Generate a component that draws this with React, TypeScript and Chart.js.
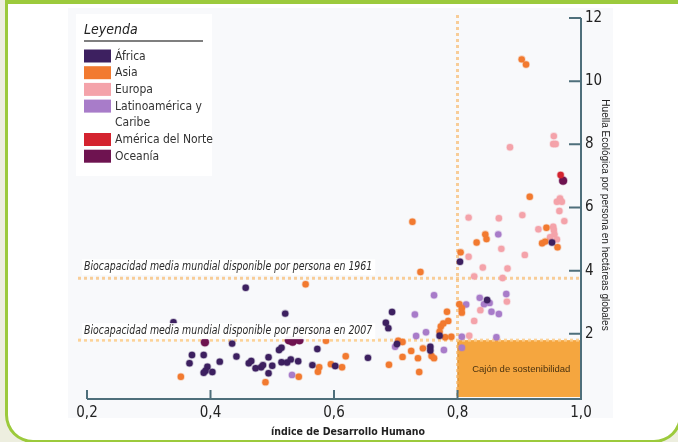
import React, { useEffect, useRef } from "react";
import { Chart, registerables } from "chart.js";

Chart.register(...registerables);

// ---- data ----
const xTickValues = [0.2, 0.4, 0.6, 0.8, 1.0];
const yTickValues = [2, 4, 6, 8, 10, 12];
const regionNames = ["África", "Asia", "Europa", "Latinoamérica y Caribe", "América del Norte", "Oceanía"];
const legendLines = [["África"], ["Asia"], ["Europa"], ["Latinoamérica y", "Caribe"], ["América del Norte"], ["Oceanía"]];
const regionColors = ["#3d2060", "#f27a30", "#f4a3aa", "#a87cc9", "#d4232f", "#6e1350"];

const biocap1961 = 3.76;
const biocap2007 = 1.8;
const hdiThreshold = 0.8;

const africa: [number, number][] = [
  [0.457, 3.46], [0.34, 2.37], [0.521, 2.64], [0.694, 2.69], [0.684, 2.35], [0.688, 2.18],
  [0.541, 2.15], [0.435, 1.69], [0.573, 1.52], [0.37, 1.33], [0.389, 1.33], [0.366, 1.07],
  [0.395, 0.96], [0.392, 0.83], [0.403, 0.79], [0.389, 0.77], [0.415, 1.12], [0.442, 1.28],
  [0.462, 1.07], [0.466, 1.14], [0.473, 0.91], [0.482, 0.94], [0.485, 1.01], [0.494, 1.26],
  [0.5, 0.99], [0.494, 0.75], [0.511, 1.49], [0.515, 1.56], [0.515, 1.1], [0.524, 1.09],
  [0.53, 1.19], [0.542, 1.13], [0.565, 1.01], [0.602, 0.98], [0.655, 1.24], [0.702, 1.68],
  [0.771, 1.94], [0.756, 1.59], [0.756, 1.47], [0.848, 3.07], [0.804, 4.28], [0.953, 4.89],
];
const asia: [number, number][] = [
  [0.554, 3.57], [0.352, 0.64], [0.489, 0.47], [0.543, 0.64], [0.574, 0.8], [0.576, 0.94],
  [0.595, 1.04], [0.613, 0.94], [0.619, 1.29], [0.587, 1.78], [0.689, 1.02], [0.711, 1.27],
  [0.704, 1.78], [0.711, 1.74], [0.725, 1.46], [0.744, 1.54], [0.736, 1.23], [0.758, 1.3],
  [0.762, 1.23], [0.738, 0.79], [0.773, 2.23], [0.771, 2.07], [0.777, 2.33], [0.78, 1.89],
  [0.79, 1.91], [0.783, 2.7], [0.785, 2.41], [0.803, 2.94], [0.807, 2.81], [0.807, 2.67],
  [0.727, 5.55], [0.74, 3.96], [0.805, 4.58], [0.831, 4.89], [0.845, 5.15], [0.847, 5.0],
  [0.917, 6.34], [0.944, 5.36], [0.937, 4.87], [0.942, 4.92], [0.962, 4.74], [0.904, 10.69],
  [0.911, 10.53],
];
const europa: [number, number][] = [
  [0.819, 1.94], [0.827, 2.41], [0.837, 2.75], [0.88, 3.02], [0.827, 3.82], [0.873, 3.77],
  [0.841, 4.1], [0.881, 4.07], [0.818, 4.44], [0.909, 4.5], [0.871, 4.69], [0.818, 5.68],
  [0.867, 5.66], [0.905, 5.76], [0.931, 5.31], [0.955, 5.39], [0.956, 5.29], [0.957, 5.15],
  [0.95, 5.06], [0.961, 4.99], [0.973, 5.57], [0.965, 5.89], [0.961, 6.18], [0.966, 6.29],
  [0.969, 6.18], [0.885, 7.91], [0.956, 8.26], [0.955, 8.01], [0.959, 8.01],
];
const latam: [number, number][] = [
  [0.532, 0.7], [0.699, 1.59], [0.731, 2.61], [0.733, 1.93], [0.749, 2.05], [0.762, 3.22],
  [0.778, 1.49], [0.807, 1.56], [0.807, 1.91], [0.814, 2.93], [0.836, 3.14], [0.843, 2.94],
  [0.855, 2.7], [0.867, 2.63], [0.879, 3.26], [0.863, 1.89], [0.866, 5.15], [0.852, 2.98],
];
const norteamerica: [number, number][] = [[0.967, 7.03]];
const oceania: [number, number][] = [
  [0.391, 1.73], [0.527, 1.8], [0.533, 1.75], [0.544, 1.8], [0.971, 6.85],
];
const regionPoints = [africa, asia, europa, latam, norteamerica, oceania];
const regionRadius = [3.2, 3.2, 3.2, 3.2, 3.2, 4.0];

const NARROW = '"Liberation Sans Narrow", "DejaVu Sans Condensed", "Liberation Sans", sans-serif';
const SANS = '"Liberation Sans", Arial, sans-serif';
const AXIS_COLOR = "#4e6f7b";

function hexA(hex: string, a: number) {
  const n = parseInt(hex.slice(1), 16);
  return `rgba(${(n >> 16) & 255},${(n >> 8) & 255},${n & 255},${a})`;
}

const decor = {
  id: "decor",
  beforeDraw(chart: any) {
    const { ctx } = chart;
    ctx.save();
    ctx.fillStyle = "#f8f9fb";
    ctx.fillRect(68, 8, 545, 410);
    ctx.fillStyle = "#ffffff";
    ctx.fillRect(76, 14, 136, 162);
    ctx.restore();
  },
  beforeDatasetsDraw(chart: any) {
    const { ctx, scales } = chart;
    const x = scales.x, y = scales.y;
    const bx0 = x.getPixelForValue(hdiThreshold);
    const bx1 = x.getPixelForValue(1.0);
    const by0 = y.getPixelForValue(0);
    const by1 = y.getPixelForValue(biocap2007);
    ctx.save();
    // sustainability box
    ctx.fillStyle = "#f5a63f";
    ctx.fillRect(bx0, by1, bx1 - bx0, by0 - by1);
    ctx.strokeStyle = "#d98a2c";
    ctx.lineWidth = 1;
    ctx.beginPath();
    ctx.moveTo(bx0 + 0.5, by1);
    ctx.lineTo(bx0 + 0.5, by0);
    ctx.stroke();
    ctx.fillStyle = "#4a3210";
    ctx.font = `9.5px ${SANS}`;
    ctx.textAlign = "center";
    ctx.textBaseline = "middle";
    ctx.fillText("Cajón de sostenibilidad", (bx0 + bx1) / 2 + 2, (by0 + by1) / 2 + 1);
    // dashed lines
    ctx.strokeStyle = "rgba(247,182,98,0.65)";
    ctx.lineWidth = 3;
    ctx.setLineDash([3, 3]);
    ctx.beginPath();
    ctx.moveTo(bx0, y.getPixelForValue(12) - 3);
    ctx.lineTo(bx0, by0);
    ctx.stroke();
    const y61 = y.getPixelForValue(biocap1961);
    ctx.beginPath();
    ctx.moveTo(78, y61);
    ctx.lineTo(bx1, y61);
    ctx.stroke();
    ctx.strokeStyle = "rgba(252,205,140,0.9)";
    ctx.beginPath();
    ctx.moveTo(78, by1);
    ctx.lineTo(bx1, by1);
    ctx.stroke();
    ctx.restore();
  },
  afterDatasetsDraw(chart: any) {
    const { ctx, scales } = chart;
    const x = scales.x, y = scales.y;
    ctx.save();
    // biocapacity labels (condensed italic)
    const labels = [
      ["Biocapacidad media mundial disponible por persona en 1961", biocap1961, 11],
      ["Biocapacidad media mundial disponible por persona en 2007", biocap2007, 9],
    ] as [string, number, number][];
    ctx.font = `italic 12px ${NARROW}`;
    ctx.textBaseline = "middle";
    ctx.textAlign = "left";
    const sx = 0.87;
    for (const [txt, v, off] of labels) {
      const py = y.getPixelForValue(v) - off;
      const w = ctx.measureText(txt).width * sx;
      ctx.fillStyle = "rgba(255,255,255,0.95)";
      ctx.fillRect(82, py - 8, w + 5, 16);
      ctx.save();
      ctx.translate(84, py);
      ctx.scale(sx, 1);
      ctx.fillStyle = "#2a2a2a";
      ctx.fillText(txt, 0, 0);
      ctx.restore();
    }
    // axes
    const left = x.getPixelForValue(0.2);
    const right = x.getPixelForValue(1.0);
    const bottom = y.getPixelForValue(0) + 2;
    const top = y.getPixelForValue(12);
    ctx.strokeStyle = AXIS_COLOR;
    ctx.lineWidth = 2;
    ctx.setLineDash([]);
    ctx.beginPath();
    ctx.moveTo(left, bottom);
    ctx.lineTo(right + 1, bottom);
    ctx.moveTo(right, bottom);
    ctx.lineTo(right, top);
    ctx.stroke();
    ctx.beginPath();
    for (const v of xTickValues) {
      const px = x.getPixelForValue(v);
      ctx.moveTo(px, bottom);
      ctx.lineTo(px, bottom - 9);
    }
    for (const v of yTickValues) {
      const py = y.getPixelForValue(v);
      ctx.moveTo(right, py);
      ctx.lineTo(right - 12, py);
    }
    ctx.stroke();
    // axis titles
    ctx.fillStyle = "#222";
    ctx.font = `bold 10.5px ${NARROW}`;
    ctx.textAlign = "center";
    ctx.textBaseline = "middle";
    ctx.fillText("índice de Desarrollo Humano", 348, 432);
    ctx.save();
    ctx.translate(605, 215);
    ctx.rotate(Math.PI / 2);
    ctx.font = `10px ${SANS}`;
    ctx.fillText("Huella Ecológica por persona en hectáreas globales", 0, 0);
    ctx.restore();
    // legend
    ctx.textAlign = "left";
    ctx.font = `italic 14px ${NARROW}`;
    ctx.fillStyle = "#222";
    ctx.fillText("Leyenda", 84, 30);
    ctx.strokeStyle = "#555";
    ctx.lineWidth = 1.3;
    ctx.beginPath();
    ctx.moveTo(84, 41);
    ctx.lineTo(203, 41);
    ctx.stroke();
    ctx.font = `12px ${NARROW}`;
    let row = 0;
    for (let i = 0; i < legendLines.length; i++) {
      const cy = 56 + row * 16.7;
      ctx.fillStyle = regionColors[i];
      ctx.fillRect(84, cy - 6.5, 27, 13);
      ctx.fillStyle = "#333";
      legendLines[i].forEach((ln, k) => {
        ctx.fillText(ln, 115, cy + k * 16.7 + 0.5);
      });
      row += legendLines[i].length;
    }
    ctx.restore();
  },
};

export default function App() {
  const ref = useRef<HTMLCanvasElement | null>(null);
  useEffect(() => {
    if (!ref.current) return;
    const chart = new Chart(ref.current, {
      type: "scatter",
      data: {
        datasets: regionPoints.map((pts, i) => ({
          label: regionNames[i],
          data: pts.map(([px, py]) => ({ x: px, y: py })),
          backgroundColor: regionColors[i],
          borderColor: hexA(regionColors[i], 0.3),
          borderWidth: 1.6,
          pointRadius: regionRadius[i],
          pointHoverRadius: regionRadius[i],
        })),
      },
      options: {
        animation: false,
        responsive: false,
        devicePixelRatio: 1,
        layout: { padding: { left: 87, top: 18, right: 0, bottom: 0 } },
        plugins: { legend: { display: false }, tooltip: { enabled: false } },
        scales: {
          x: {
            type: "linear",
            position: "bottom",
            min: 0.2,
            max: 1.0,
            grid: { display: false, drawTicks: false },
            border: { display: false },
            afterFit: (s: any) => { s.height = 45; },
            afterBuildTicks: (s: any) => { s.ticks = xTickValues.map((v) => ({ value: v })); },
            ticks: {
              padding: 7,
              color: "#222",
              font: { family: NARROW, size: 15 },
              callback: (v: any) => Number(v).toFixed(1).replace(".", ","),
            },
          },
          y: {
            type: "linear",
            position: "right",
            min: 0,
            max: 12,
            grid: { display: false, drawTicks: false },
            border: { display: false },
            afterFit: (s: any) => { s.width = 97; },
            afterBuildTicks: (s: any) => { s.ticks = yTickValues.map((v) => ({ value: v })); },
            ticks: {
              padding: 4,
              color: "#222",
              font: { family: NARROW, size: 15 },
              callback: (v: any) => String(v),
            },
          },
        },
      },
      plugins: [decor],
    });
    return () => chart.destroy();
  }, []);

  return (
    <div style={{ position: "fixed", left: 0, top: 0, width: 678, height: 442, background: "#edeedf", overflow: "hidden" }}>
      <div
        style={{
          position: "absolute",
          left: 5,
          top: 0,
          width: 677,
          height: 443,
          boxSizing: "border-box",
          borderStyle: "solid",
          borderColor: "#9cca3c",
          borderWidth: "4px 3px 3px 3px",
          borderRadius: "0 0 28px 28px",
          background: "#ffffff",
        }}
      />
      <canvas ref={ref} width={678} height={442} style={{ position: "absolute", left: 0, top: 0, width: 678, height: 442 }} />
    </div>
  );
}
